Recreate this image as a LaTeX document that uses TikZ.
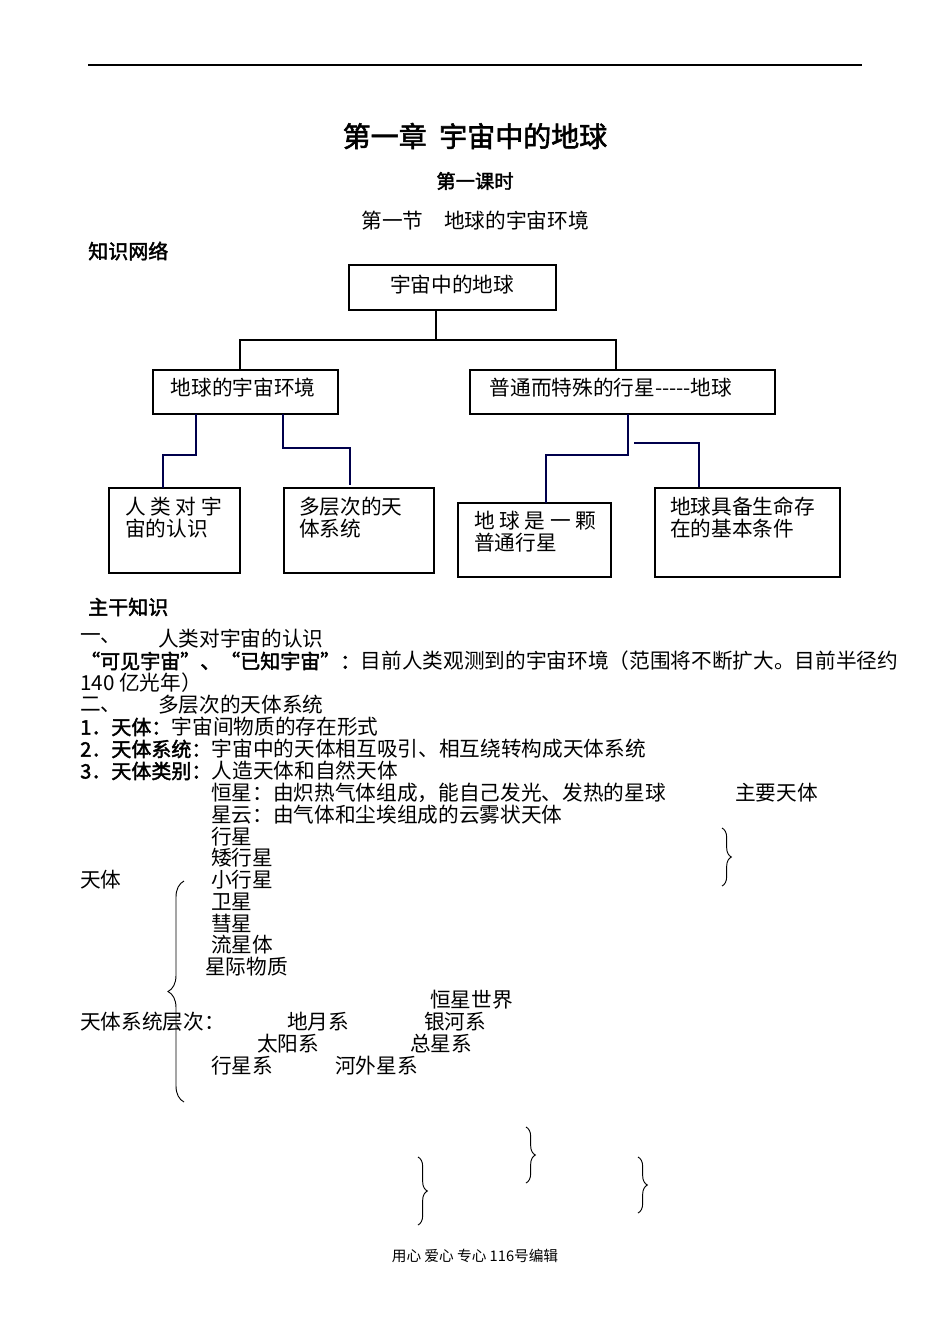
\documentclass[tikz,border=0pt]{standalone}
\usepackage{fontspec}
\setmainfont{Noto Sans CJK SC}
\newfontfamily\cjkb[FakeBold=2]{Noto Sans CJK SC}
\usetikzlibrary{decorations.pathreplacing}
\begin{document}
\begin{tikzpicture}[x=0.75pt,y=-0.75pt,
  t/.style={anchor=west,inner sep=0pt,font=\fontsize{15.5}{18}\selectfont},
  tb/.style={t,font=\fontsize{15}{18}\selectfont\cjkb},
  box/.style={draw,line width=0.9pt,inner sep=0pt},
  bl/.style={draw=black!70!blue,line width=0.9pt},
  bt/.style={anchor=north west,inner sep=0pt,align=left,font=\fontsize{15.5}{16.5}\selectfont},
  bx/.style={inner sep=0pt,font=\fontsize{15.5}{18}\selectfont},
  br/.style={decorate,decoration={brace,amplitude=7pt},line width=0.7pt}]
\useasboundingbox (0,0) rectangle (950,1342);
\coordinate (r1) at (88,65); \coordinate (r2) at (862,65);
\draw[line width=0.8pt] (r1) -- (r2);
\node[anchor=center,inner sep=0pt,font=\fontsize{21}{24}\selectfont\cjkb] (title) at (475,136) {第一章\ \ 宇宙中的地球};
\node[anchor=center,inner sep=0pt,font=\fontsize{14.5}{16}\selectfont\cjkb] (ks) at (475,181) {第一课时};
\node[anchor=center,inner sep=0pt,font=\fontsize{15.5}{18}\selectfont] (jie) at (475,221) {第一节\quad 地球的宇宙环境};
\node[tb] (zs) at (88,251) {知识网络};
% boxes
\path[box] (349,265) rectangle (556,310);
\node[bx] (b0) at (452,285) {宇宙中的地球};
\path[box] (153,370) rectangle (338,414);
\node[bx] (bL) at (243,388) {地球的宇宙环境};
\path[box] (470,370) rectangle (775,414);
\node[bx] (bR) at (611,388) {普通而特殊的行星{-}{-}{-}{-}{-}地球};
\coordinate (p0) at (436,310); \coordinate (p1) at (436,340);
\coordinate (pL) at (240,370); \coordinate (pR) at (616,370);
\draw[line width=0.9pt] (p0) -- (p1) (pL) |- (p1) -| (pR);
\path[box] (109,488) rectangle (240,573);
\node[bt] (bA) at (125,497) {人 类 对 宇\\宙的认识};
\path[box] (284,488) rectangle (434,573);
\node[bt] (bB) at (299,497) {多层次的天\\体系统};
\path[box] (458,503) rectangle (611,577);
\node[bt] (bC) at (474,511) {地 球 是 一 颗\\普通行星};
\path[box] (655,488) rectangle (840,577);
\node[bt] (bD) at (670,497) {地球具备生命存\\在的基本条件};
\draw[bl] (196,414) -- (196,455) -- (163,455) -- (163,488);
\draw[bl] (283,414) -- (283,448) -- (350,448) -- (350,485);
\draw[bl] (628,414) -- (628,455) -- (546,455) -- (546,503);
\draw[bl] (634,443) -- (699,443) -- (699,487);
% text body
\node[tb] (zg) at (88,607) {主干知识};
\node[t] (n1) at (80,639) {一、}; \node[t] (n1b) at (158,639) {人类对宇宙的认识};
\node[tb] (k1) at (80,661) {“可见宇宙”、“已知宇宙”：};
\node[t] (k1b) at (k1.east) {目前人类观测到的宇宙环境（范围将不断扩大。目前半径约};
\node[t] (k2) at (80,683) {140 亿光年）};
\node[t] (n2) at (80,705) {二、}; \node[t] (n2b) at (158,705) {多层次的天体系统};
\node[tb] (a1) at (80,727) {1．天体：}; \node[t] at (a1.east) {宇宙间物质的存在形式};
\node[tb] (a2) at (80,749) {2．天体系统：}; \node[t] at (a2.east) {宇宙中的天体相互吸引、相互绕转构成天体系统};
\node[tb] (a3) at (80,771) {3．天体类别：}; \node[t] at (a3.east) {人造天体和自然天体};
\node[t] (h1) at (211,793) {恒星：由炽热气体组成，能自己发光、发热的星球};
\node[t] (h2) at (735,793) {主要天体};
\node[t] (h3) at (211,815) {星云：由气体和尘埃组成的云雾状天体};
\node[t] at (211,837) {行星};
\node[t] at (211,858) {矮行星};
\node[t] at (211,880) {小行星};
\node[t] at (80,880) {天体};
\node[t] at (211,902) {卫星};
\node[t] at (211,924) {彗星};
\node[t] at (211,945) {流星体};
\node[t] at (205,967) {星际物质};
\node[t] at (430,1000) {恒星世界};
\node[t] at (80,1022) {天体系统层次：};
\node[t] at (287,1022) {地月系};
\node[t] at (424,1022) {银河系};
\node[t] at (257,1044) {太阳系};
\node[t] at (410,1044) {总星系};
\node[t] at (211,1066) {行星系};
\node[t] at (335,1066) {河外星系};
% braces
\draw[br,decoration={amplitude=12pt}] (184,1102) -- (184,881);
\draw[br] (722,828) -- (722,886);
\draw[br] (526,1127) -- (526,1183);
\draw[br] (418,1157) -- (418,1225);
\draw[br] (638,1157) -- (638,1213);
\node[inner sep=0pt,font=\fontsize{11}{12}\selectfont] (ft) at (475,1256) {用心 爱心 专心 116号编辑};
\end{tikzpicture}
\end{document}
